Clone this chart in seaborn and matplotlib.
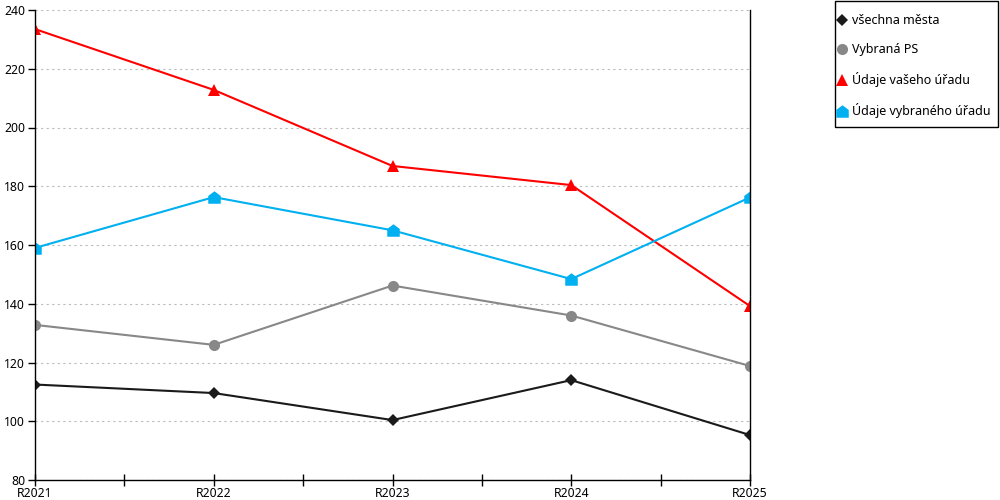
import matplotlib
matplotlib.use("Agg")
import matplotlib.pyplot as plt
from matplotlib.patches import Rectangle
from matplotlib.path import Path
from matplotlib.ticker import MultipleLocator
import pandas as pd
import seaborn as sns

years = ["R2021", "R2022", "R2023", "R2024", "R2025"]
vsechna_mesta = [112.5, 109.6, 100.4, 114.0, 95.3]
vybrana_ps = [132.8, 126.0, 146.2, 136.0, 118.8]
vas_urad = [233.5, 212.8, 186.9, 180.4, 139.2]
vybrany_urad = [159.0, 176.3, 165.0, 148.4, 176.2]

names = ["všechna města", "Vybraná PS", "Údaje vašeho úřadu", "Údaje vybraného úřadu"]
colors = ["#1a1a1a", "#888888", "#ff0000", "#00b0f0"]

house = Path([(-1, -1), (1, -1), (1, 0.25), (0, 1), (-1, 0.25), (-1, -1)],
             [Path.MOVETO, Path.LINETO, Path.LINETO, Path.LINETO, Path.LINETO, Path.CLOSEPOLY])
markers = ["D", "o", "^", house]
msizes = [6, 8, 9, 9]

rows = []
for name, vals in zip(names, [vsechna_mesta, vybrana_ps, vas_urad, vybrany_urad]):
    for i, v in enumerate(vals):
        rows.append({"x": i, "rok": years[i], "serie": name, "hodnota": v})
df = pd.DataFrame(rows)

sns.set_style("white")
plt.rcParams["font.family"] = ["Noto Sans", "DejaVu Sans"]
plt.rcParams["text.color"] = "black"
plt.rcParams["xtick.color"] = "black"
plt.rcParams["ytick.color"] = "black"

fig = plt.figure(figsize=(10, 5), dpi=100)
ax = fig.add_axes([0.035, 0.04, 0.715, 0.94])

for name, col, mk, ms in zip(names, colors, markers, msizes):
    sub = df[df["serie"] == name]
    sns.lineplot(data=sub, x="x", y="hodnota", ax=ax, color=col, marker=mk,
                 markersize=ms, markeredgewidth=0, linewidth=1.5, label=name)

ax.set_xlim(0, len(years) - 1)
ax.set_ylim(80, 240)
ax.yaxis.set_major_locator(MultipleLocator(20))
ax.set_xticks(range(len(years)))
ax.set_xticklabels(years)
ax.xaxis.set_minor_locator(MultipleLocator(0.5))
ax.set_xlabel("")
ax.set_ylabel("")
ax.grid(axis="y", color="#bbbbbb", linestyle=(0, (2, 3)), linewidth=0.8)
ax.set_axisbelow(True)
for s in ["left", "bottom", "right"]:
    ax.spines[s].set_color("black")
    ax.spines[s].set_linewidth(1)
ax.spines["top"].set_visible(False)
ax.tick_params(axis="y", which="major", left=True, direction="out", length=5, width=1,
               labelsize=8.8, pad=2, color="black", labelcolor="black")
ax.tick_params(axis="x", which="both", bottom=True, direction="inout", length=8, width=1,
               labelsize=8.8, pad=1, color="black", labelcolor="black")

ax.get_legend().remove()
h, l = ax.get_legend_handles_labels()
leg = fig.legend(h, l, loc="upper left", bbox_to_anchor=(0.838, 0.972),
                 frameon=False, fontsize=9,
                 handlelength=0.7, handletextpad=0.45, labelspacing=1.28,
                 borderpad=0, borderaxespad=0)
for line in leg.get_lines():
    line.set_linestyle("")
fig.patches.append(Rectangle((0.8345, 0.746), 0.163, 0.253, transform=fig.transFigure,
                             fill=False, edgecolor="black", linewidth=1))

fig.savefig("out.png", dpi=100)
